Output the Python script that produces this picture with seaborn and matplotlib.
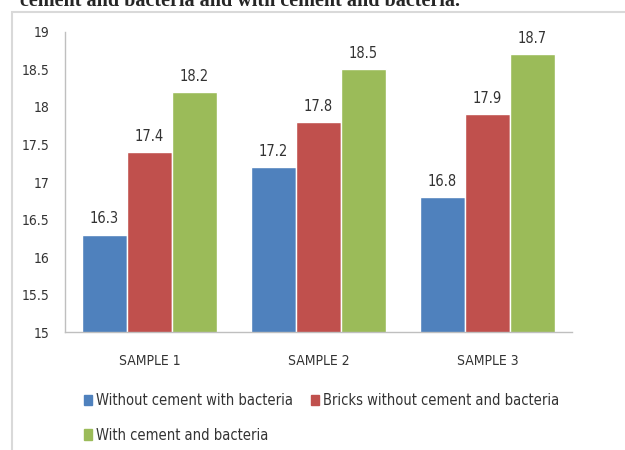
import pandas as pd
import matplotlib.pyplot as plt
import matplotlib.patches as mpatches
import seaborn as sns

# --- DATA ---
samples = ['SAMPLE 1', 'SAMPLE 2', 'SAMPLE 3']
series_names = ['Without cement with bacteria',
                'Bricks without cement and bacteria',
                'With cement and bacteria']
without_cement_bacteria = [16.3, 17.2, 16.8]
bricks_plain = [17.4, 17.8, 17.9]
with_cement_bacteria = [18.2, 18.5, 18.7]
y_ticks = [15, 15.5, 16, 16.5, 17, 17.5, 18, 18.5, 19]
y_tick_labels = ['15', '15.5', '16', '16.5', '17', '17.5', '18', '18.5', '19']

colors = ['#4F81BD', '#C0504D', '#9BBB59']

rows = []
for name, vals in zip(series_names, [without_cement_bacteria, bricks_plain, with_cement_bacteria]):
    for s, v in zip(samples, vals):
        rows.append({'sample': s, 'series': name, 'value': v})
df = pd.DataFrame(rows)

sns.set_style('white')
plt.rcParams['font.family'] = ['DejaVu Sans']
plt.rcParams['font.stretch'] = 'condensed'

fig = plt.figure(figsize=(6.25, 4.5), dpi=100)
ax = fig.add_axes([0.104, 0.262, 0.811, 0.667])

sns.barplot(data=df, x='sample', y='value', hue='series', palette=colors,
            width=0.8, saturation=1, ax=ax, legend=False)

for cont in ax.containers:
    ax.bar_label(cont, fmt='%.1f', padding=6, fontsize=10.5, color='#333333')

ax.set_ylim(15, 19)
ax.set_yticks(y_ticks)
ax.set_yticklabels(y_tick_labels)
ax.set_xlabel('')
ax.set_ylabel('')
ax.tick_params(axis='y', length=0, pad=11, labelsize=10, labelcolor='#333333')
ax.tick_params(axis='x', length=0, pad=16, labelsize=10, labelcolor='#333333')
for side in ['top', 'right']:
    ax.spines[side].set_visible(False)
for side in ['left', 'bottom']:
    ax.spines[side].set_color('#bfbfbf')
    ax.spines[side].set_linewidth(1)

# legend filled column-wise: blue, green in column 1; red in column 2
order = [0, 2, 1]
handles = [mpatches.Patch(color=colors[i], label=series_names[i]) for i in order]
fig.legend(handles=handles, loc='upper left', bbox_to_anchor=(0.134, 0.127),
           ncol=2, frameon=False, fontsize=10.5, handlelength=0.55, handleheight=0.7,
           handletextpad=0.3, columnspacing=1.2, labelspacing=1.35,
           borderaxespad=0, borderpad=0, labelcolor='#333333')

# outer chart border
fig.patches.append(mpatches.Rectangle((12 / 625, -0.02), 1.0, 1 - 12 / 450 + 0.02,
                                      transform=fig.transFigure, fill=False,
                                      edgecolor='#d9d9d9', linewidth=1.5))

# caption text cut off at the top of the image (as in the source)
fig.text(0.032, 1 - 6 / 450, 'cement and bacteria and with cement and bacteria.',
         family='Liberation Serif', fontweight='bold', fontsize=14.5, va='baseline')

fig.savefig('out.png', dpi=100)
